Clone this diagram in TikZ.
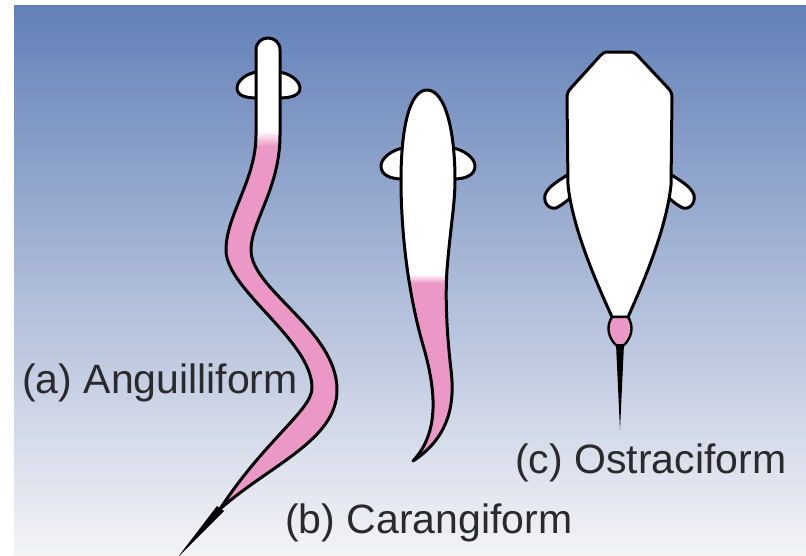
\documentclass[tikz,border=0pt]{standalone}
\usepackage{fontspec}
\setmainfont{Liberation Sans}
\definecolor{bgtop}{RGB}{98,128,184}
\definecolor{bgmid}{RGB}{185,196,221}
\definecolor{bgbot}{RGB}{244,244,247}
\definecolor{finpink}{RGB}{236,152,198}
\definecolor{labelgray}{RGB}{42,42,44}
\begin{document}
\begin{tikzpicture}[x=1pt,y=-1pt,
  outline/.style={draw=black, line width=3pt, line join=round},
  finshape/.style={outline, fill=white},
  lbl/.style={font=\fontsize{41}{49}\selectfont, text=labelgray, inner sep=0pt, anchor=base west}]

% outlines of the three swimmers
\def\eelpath{(256,50) -- (256,135) .. controls (256,180) and (226,215) .. (226,250)
  .. controls (226,290) and (312,340) .. (312,388)
  .. controls (312,410) and (265,440) .. (220,509)
  .. controls (270,465) and (337,440) .. (337,390)
  .. controls (337,330) and (251,290) .. (251,250)
  .. controls (251,222) and (280,188) .. (280,135)
  -- (280,50) .. controls (280,34) and (256,34) .. (256,50) -- cycle}
\def\carpath{(427,90) .. controls (409,90) and (401,130) .. (401,180)
  .. controls (401,240) and (410,300) .. (423,345)
  .. controls (436,390) and (440,432) .. (413,461)
  .. controls (445,440) and (456,410) .. (451,370)
  .. controls (447,335) and (445,300) .. (447,270)
  .. controls (450,230) and (455,205) .. (455,180)
  .. controls (455,130) and (445,90) .. (427,90) -- cycle}
\def\boxpath{(606,52) -- (631,52) .. controls (634,52) and (636,54) .. (638,56)
  -- (668,88) .. controls (671,91) and (672,94) .. (672,98)
  -- (671,185) .. controls (666,232) and (640,290) .. (628,317)
  -- (612,317) .. controls (600,290) and (573,232) .. (568,185)
  -- (567,98) .. controls (567,94) and (568,91) .. (571,88)
  -- (600,56) .. controls (602,54) and (604,52) .. (606,52) -- cycle}

\useasboundingbox (0,0) rectangle (806,555);
\fill[white] (0,0) rectangle (806,555);
\shade[top color=bgtop, middle color=bgmid, bottom color=bgbot] (14,5) rectangle (806,555);

% (a) anguilliform
\draw[finshape] (258,72) .. controls (246,73) and (237,81) .. (237,88)
  .. controls (237,96) and (246,98) .. (258,98) -- cycle;
\draw[finshape] (278,72) .. controls (290,73) and (300,81) .. (300,88)
  .. controls (300,96) and (290,98) .. (278,98) -- cycle;
\begin{scope}
  \clip \eelpath;
  \fill[finpink] (150,30) rectangle (360,560);
  \fill[white] (150,30) rectangle (360,132);
  \shade[top color=white, bottom color=finpink] (150,131) rectangle (360,146);
\end{scope}
\draw[outline] \eelpath;
\fill[black] (217,506) -- (224,511) -- (178,557) -- cycle;

% (b) carangiform
\draw[finshape] (403,148) .. controls (392,150) and (381,158) .. (381,166)
  .. controls (381,175) and (390,179) .. (403,179) -- cycle;
\draw[finshape] (453,148) .. controls (464,150) and (475,158) .. (475,166)
  .. controls (475,175) and (466,179) .. (453,179) -- cycle;
\begin{scope}
  \clip \carpath;
  \fill[finpink] (380,80) rectangle (480,470);
  \fill[white] (380,80) rectangle (480,275);
  \shade[top color=white, bottom color=finpink] (380,274) rectangle (480,283);
\end{scope}
\draw[outline] \carpath;

% (c) ostraciiform
\draw[finshape] (572,172) .. controls (560,180) and (548,186) .. (545,195)
  .. controls (543,205) and (552,211) .. (558,207)
  .. controls (563,204) and (567,201) .. (570,198) -- cycle;
\draw[finshape] (667,172) .. controls (679,180) and (691,186) .. (694,195)
  .. controls (696,205) and (687,211) .. (681,207)
  .. controls (676,204) and (672,201) .. (669,198) -- cycle;
\draw[outline, fill=white] \boxpath;
\draw[outline, line width=2.4pt, fill=finpink] (612,317) .. controls (607,325) and (607,334) .. (614,343)
  -- (620,349) -- (626,343) .. controls (633,334) and (633,325) .. (628,317) -- cycle;
\fill[black] (616,344) -- (620,430) -- (624,344) -- cycle;

% labels
\node[lbl] (labA) at (22,393) {(a) Anguilliform};
\node[lbl] (labB) at (285,533) {(b) Carangiform};
\node[lbl] (labC) at (515,473) {(c) Ostraciform};
\end{tikzpicture}
\end{document}
